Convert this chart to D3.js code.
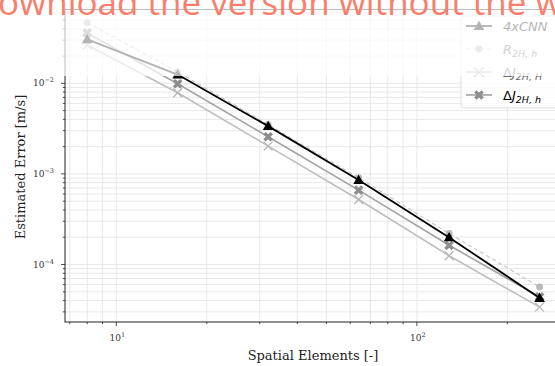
<!DOCTYPE html>
<html>
<head>
<meta charset="utf-8">
<script src="https://cdn.jsdelivr.net/npm/d3@7"></script>
<style>
  body { margin: 0; background: #fff; }
  svg { display: block; }
</style>
</head>
<body>
<script>
var W = 555, H = 366;

// data
var elements = [8, 16, 32, 64, 128, 256];
var cnn  = [0.0306, 0.0125, 3.37e-3, 8.55e-4, 1.99e-4, 4.27e-5];
var rEst = [0.0467, 0.0134, 3.5e-3, 9.1e-4, 2.2e-4, 5.66e-5];
var djH  = [0.0265, 7.87e-3, 2.03e-3, 5.22e-4, 1.25e-4, 3.39e-5];
var djh  = [0.036, 9.9e-3, 2.57e-3, 6.62e-4, 1.63e-4, 4.4e-5];
var xMajor = [10, 100];
var yMajor = [1e-4, 1e-3, 1e-2];

// plot box (window.top is reserved, so use other names)
var pLeft = 65, pRight = 565, pTop = 9.5, pBottom = 322;

var svg = d3.select("body").append("svg")
	.attr("width", W)
	.attr("height", H);

var x = d3.scaleLog().domain([6.75, 311]).range([pLeft, pRight]);
var y = d3.scaleLog().domain([2.32e-5, 0.0653]).range([pBottom, pTop]);

// minor ticks
var xMinor = [], yMinor = [];
[1, 10, 100].forEach(function(d) {
	for (var k = 1; k < 10; k++) {
		var v = d * k;
		if (v > 6.75 && v < 311) xMinor.push(v);
	}
});
[1e-5, 1e-4, 1e-3, 1e-2].forEach(function(d) {
	for (var k = 1; k < 10; k++) {
		var v = +(d * k).toPrecision(6);
		if (v > 2.32e-5 && v < 0.0653) yMinor.push(v);
	}
});
function isMajor(v) {
	var l = Math.log10(v);
	return Math.abs(l - Math.round(l)) < 1e-6;
}

// grid
var grid = svg.append("g").attr("stroke", "#e2e2e2").attr("stroke-width", 0.8);
grid.selectAll(".gx").data(xMinor).enter().append("line")
	.attr("x1", d => x(d)).attr("x2", d => x(d))
	.attr("y1", pTop).attr("y2", pBottom);
grid.selectAll(".gy").data(yMinor).enter().append("line")
	.attr("x1", pLeft).attr("x2", pRight)
	.attr("y1", d => y(d)).attr("y2", d => y(d));

// axes frame
svg.append("rect")
	.attr("x", pLeft).attr("y", pTop)
	.attr("width", pRight - pLeft).attr("height", pBottom - pTop)
	.attr("fill", "none").attr("stroke", "#222").attr("stroke-width", 1);

// ticks
var ticks = svg.append("g").attr("stroke", "#222").attr("stroke-width", 0.8);
ticks.selectAll(".tx").data(xMinor).enter().append("line")
	.attr("x1", d => x(d)).attr("x2", d => x(d))
	.attr("y1", pBottom).attr("y2", d => pBottom + (isMajor(d) ? 4 : 2.2));
ticks.selectAll(".ty").data(yMinor).enter().append("line")
	.attr("y1", d => y(d)).attr("y2", d => y(d))
	.attr("x1", pLeft).attr("x2", d => pLeft - (isMajor(d) ? 4 : 2.2));

function powLabel(sel, exp) {
	sel.append("tspan").text("10");
	sel.append("tspan").attr("dy", -4).attr("font-size", 6.5).text(exp);
}
xMajor.forEach(function(d) {
	var t = svg.append("text")
		.attr("x", x(d) + 1).attr("y", 341)
		.attr("text-anchor", "middle")
		.attr("font-family", "DejaVu Serif").attr("font-size", 9)
		.attr("fill", "#333");
	powLabel(t, String(Math.round(Math.log10(d))));
});
yMajor.forEach(function(d) {
	var t = svg.append("text")
		.attr("x", 54).attr("y", y(d) + 3)
		.attr("text-anchor", "end")
		.attr("font-family", "DejaVu Serif").attr("font-size", 9)
		.attr("fill", "#333");
	powLabel(t, "\u2212" + Math.round(-Math.log10(d)));
});

// axis titles
svg.append("text")
	.attr("x", 313).attr("y", 360)
	.attr("text-anchor", "middle")
	.attr("font-family", "DejaVu Serif").attr("font-size", 13)
	.attr("fill", "#222")
	.text("Spatial Elements [-]");
svg.append("text")
	.attr("transform", "translate(25,167) rotate(-90)")
	.attr("text-anchor", "middle")
	.attr("font-family", "DejaVu Serif").attr("font-size", 13)
	.attr("fill", "#222")
	.text("Estimated Error [m/s]");

// series
var series = [
	{name: "djH", vals: djH, color: "#bdbdbd", width: 1.5, dash: null, marker: "x", mcolor: "#b5b5b5"},
	{name: "r", vals: rEst, color: "#c9c9c9", width: 1.2, dash: "4,3", marker: "o", mcolor: "#b8b8b8"},
	{name: "djh", vals: djh, color: "#a3a3a3", width: 1.6, dash: null, marker: "X", mcolor: "#8e8e8e"},
	{name: "cnn", vals: cnn, color: "#000", width: 1.8, dash: null, marker: "^", mcolor: "#000"}
];

var line = d3.line().x(d => x(d[0])).y(d => y(d[1]));

function drawMarker(g, type, cx, cy, color, size) {
	if (type === "^") {
		g.append("path").attr("d", d3.symbol(d3.symbolTriangle, size * 5.5)())
			.attr("transform", "translate(" + cx + "," + (cy + 0.8) + ")")
			.attr("fill", color);
	} else if (type === "o") {
		g.append("circle").attr("cx", cx).attr("cy", cy).attr("r", size * 0.38)
			.attr("fill", color);
	} else if (type === "x") {
		g.append("path").attr("d", d3.symbol(d3.symbolTimes, size * 6)())
			.attr("transform", "translate(" + cx + "," + cy + ")")
			.attr("fill", "none").attr("stroke", color).attr("stroke-width", 1.2);
	} else if (type === "X") {
		g.append("path").attr("d", d3.symbol(d3.symbolCross, size * 6.5)())
			.attr("transform", "translate(" + cx + "," + cy + ") rotate(45)")
			.attr("fill", color);
	}
}

series.forEach(function(s) {
	var pts = elements.map((e, i) => [e, s.vals[i]]);
	svg.append("path")
		.datum(pts)
		.attr("d", line)
		.attr("fill", "none")
		.attr("stroke", s.color)
		.attr("stroke-width", s.width)
		.attr("stroke-dasharray", s.dash);
	var g = svg.append("g");
	pts.forEach(function(p) {
		drawMarker(g, s.marker, x(p[0]), y(p[1]), s.mcolor, 9);
	});
});

// legend
var lg = svg.append("g").attr("transform", "translate(461,16)");
lg.append("rect")
	.attr("width", 100).attr("height", 92)
	.attr("rx", 3)
	.attr("fill", "#fff").attr("fill-opacity", 0.85)
	.attr("stroke", "#d4d4d4").attr("stroke-width", 0.8);

var legendItems = [
	{s: series[3], label: [["4xCNN", "i", 0]], tcolor: "#000"},
	{s: series[1], label: [["R", "i", 0], ["2H, h", "i", 1]], tcolor: "#666"},
	{s: series[0], label: [["\u0394", "n", 0], ["J", "i", 0], ["2H, H", "i", 1]], tcolor: "#666"},
	{s: series[2], label: [["\u0394", "n", 0], ["J", "i", 0], ["2H, h", "i", 1]], tcolor: "#000"}
];
legendItems.forEach(function(it, i) {
	var yy = 10 + i * 23;
	lg.append("line")
		.attr("x1", 5).attr("x2", 31).attr("y1", yy).attr("y2", yy)
		.attr("stroke", it.s.color).attr("stroke-width", it.s.width)
		.attr("stroke-dasharray", it.s.dash);
	drawMarker(lg, it.s.marker, 18, yy, it.s.mcolor, 9);
	var t = lg.append("text")
		.attr("x", 42).attr("y", yy + 4.5)
		.attr("font-family", "DejaVu Sans").attr("font-size", 13)
		.attr("fill", it.tcolor);
	it.label.forEach(function(part) {
		var sp = t.append("tspan").text(part[0])
			.attr("font-style", part[1] === "i" ? "italic" : "normal");
		if (part[2] === 1) {
			sp.attr("font-size", 9.5).attr("dy", 3);
		}
	});
});

// faded band over the top of the figure
svg.append("rect")
	.attr("x", 0).attr("y", 0)
	.attr("width", W).attr("height", 76)
	.attr("fill", "#fff").attr("fill-opacity", 0.7);

// watermark
var wm = svg.append("text")
	.attr("y", 15)
	.attr("font-family", "Open Sans").attr("font-size", 35)
	.attr("fill", "#fa7e6c")
	.text("D");
var dW = wm.node().getComputedTextLength();
wm.text("Download the version without the watermark")
	.attr("x", -dW - 2);
</script>
</body>
</html>
